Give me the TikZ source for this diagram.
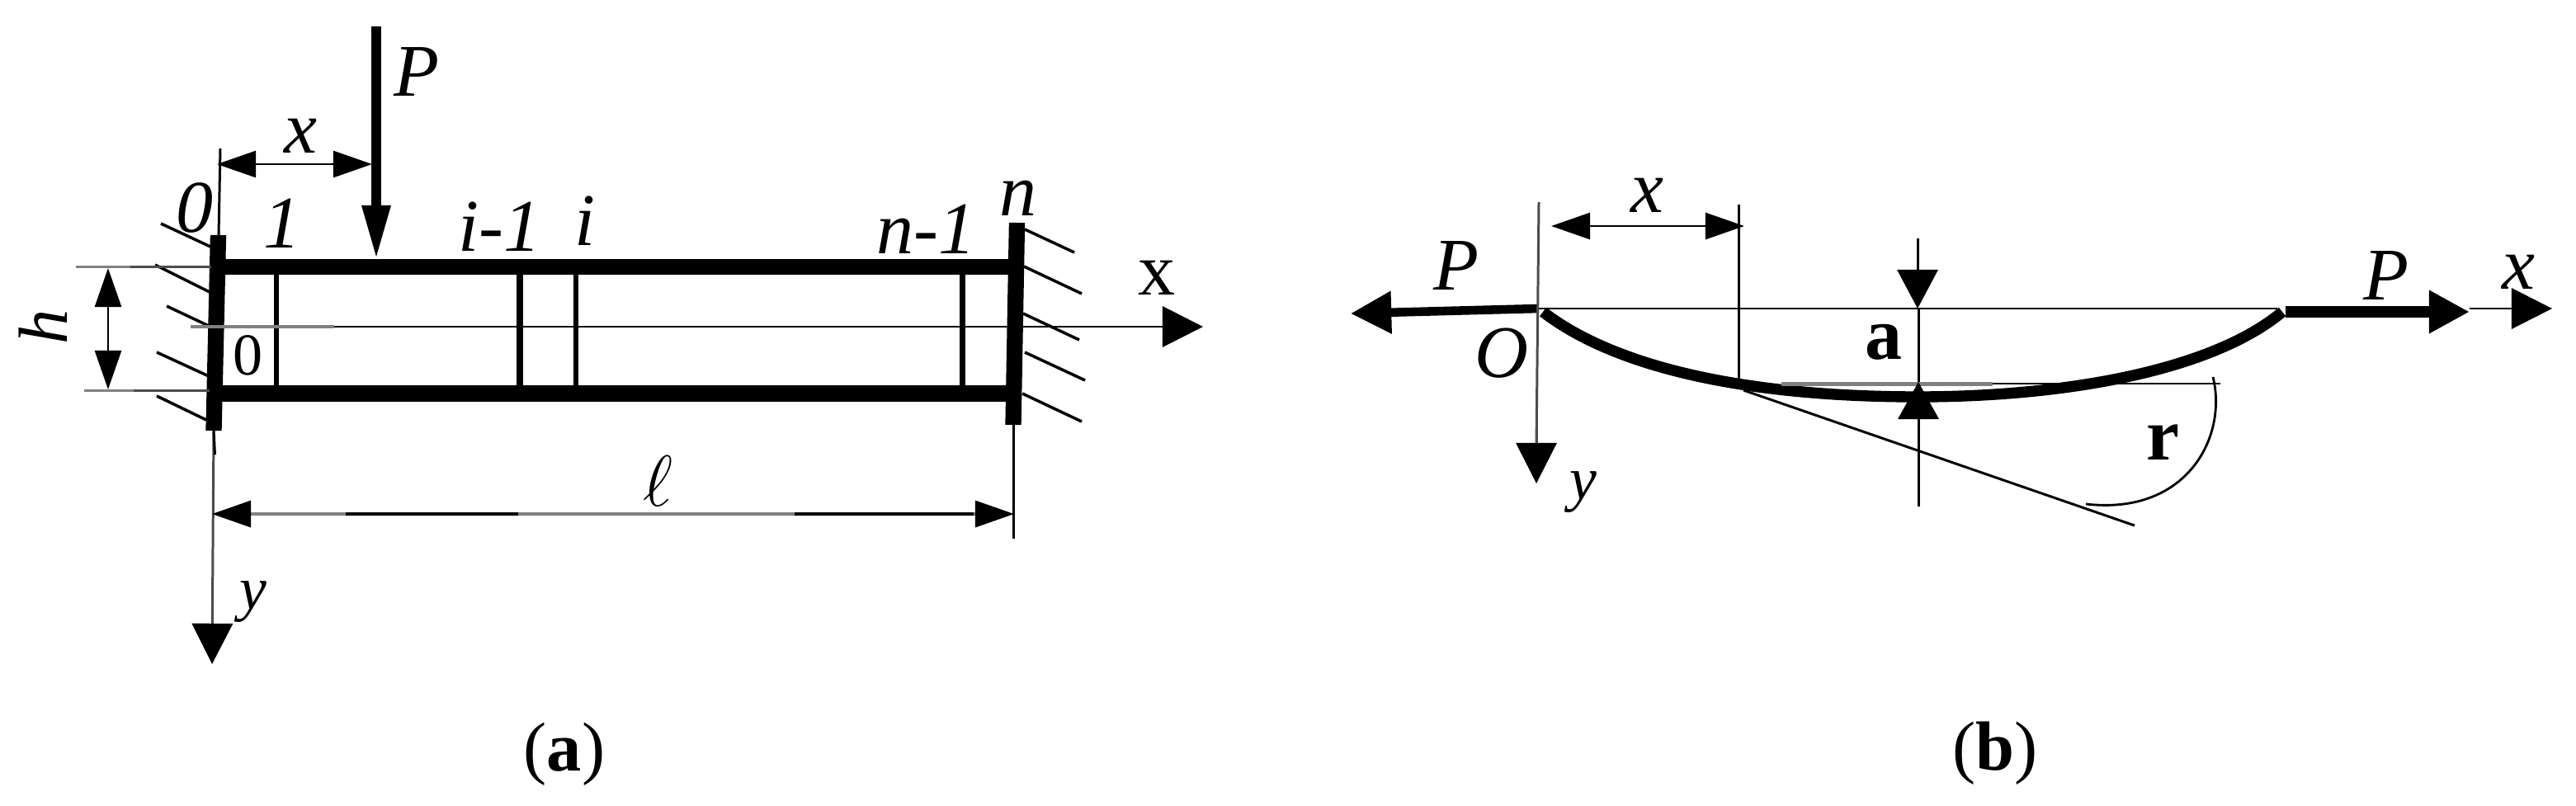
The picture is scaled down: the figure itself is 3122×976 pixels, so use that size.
\documentclass[tikz,border=0pt]{standalone}
\usepackage{fontspec}
\setmainfont{Liberation Serif}
\usetikzlibrary{arrows.meta}
\tikzset{
  x=0.01cm,y=-0.01cm,
  lab/.style={inner sep=0pt,font=\fontsize{25.6}{30}\selectfont\itshape},
  smalllab/.style={inner sep=0pt,font=\fontsize{21}{25}\selectfont\itshape},
  rlab/.style={inner sep=0pt,font=\fontsize{25.6}{30}\selectfont},
  caplab/.style={inner sep=0pt,font=\fontsize{24}{28}\selectfont},
  thinl/.style={line width=0.85pt},
  grayl/.style={line width=1pt,black!50},
  hatch/.style={line width=1pt},
  wall/.style={line width=5.5pt},
  beam/.style={line width=5.5pt},
  dimarrows/.style={{Triangle[length=13.4pt,width=9.1pt,color=black]}-{Triangle[length=13.4pt,width=9.1pt,color=black]}},
  bigtip/.style={-{Triangle[length=14pt,width=14pt,color=black]}},
}
\begin{document}
\begin{tikzpicture}
\useasboundingbox[fill=white] (0,0) rectangle (3122,976);
% ---------- (a) ----------
\coordinate (LT) at (264.5,285); \coordinate (LB) at (259,522);
\coordinate (RT) at (1232.5,270); \coordinate (RB) at (1228,515);
\draw[wall] (LT) -- (LB);
\draw[wall] (RT) -- (RB);
\draw[beam] (262,323.5) -- (1232,323.5);
\draw[beam] (260,477) -- (1229,477);
\foreach \xx/\w in {335/1.5,630/2,698/1.7,1166.5/1.8}
  \draw[line width=\w pt] (\xx,330) -- (\xx,470);
% hatches left
\foreach \a/\b/\c/\d in {195/271/255/299,188/321/254/354,202/371/255/396,190/427/253/456,190/480/250/509}
  \draw[hatch] (\a,\b) -- (\c,\d);
% hatches right
\foreach \a/\b/\c/\d in {1242/278/1302/306,1241/323/1311/356,1240/380/1308/412,1242/427/1315/461,1239/477/1311/511}
  \draw[hatch] (\a,\b) -- (\c,\d);
% axes
\draw[grayl] (231,396) -- (405,396);
\draw[thinl,bigtip] (405,396) -- (1458,396);
\draw[thinl,black!70,bigtip] (LB) -- (257,805);
\draw[thinl] (LB) -- (260.5,551);
% force P
\draw[line width=3.4pt,-{Triangle[length=18.8pt,width=9.1pt]}] (456,32) -- (456,315);
% dimension x
\coordinate (XL) at (263,199); \coordinate (XR) at (451,199);
\draw[thinl,dimarrows] (XL) -- (XR);
\draw[thinl] (267,180) -- (265,285);
% dimension h
\draw[grayl] (92,323.5) -- (158,323.5);
\draw[thinl,black!70] (158,323.5) -- (256,323.5);
\draw[grayl] (102,473.5) -- (162,473.5);
\draw[thinl,black!70] (162,473.5) -- (254,473.5);
\draw[thinl,dimarrows] (131,325) -- (131,472);
% dimension l
\draw[grayl,dimarrows] (257,623) -- (1229,623);
\draw[line width=1pt] (419,623) -- (628,623);
\draw[line width=1pt] (963,623) -- (1180,623);
\draw[thinl] (RB) -- (1228,653);
% labels (a)
\node[lab] (Pa) at (505,87) {P};
\node[lab] (xa) at (364,165) {x};
\node[lab] (n0) at (236,252) {0};
\node[lab] (n1) at (342,271) {1};
\node[lab] (nim) at (605,275) {i-1};
\node[lab] (ni) at (709,268) {i};
\node[lab] (nnm) at (1122,278) {n-1};
\node[lab] (nn) at (1234,240) {n};
\node[lab,rotate=90,font=\fontsize{24}{28}\selectfont\itshape] (ha) at (52,396) {h};
\node[rlab,font=\fontsize{20.5}{24}\selectfont] (oa) at (301,431) {0};
\node[rlab] (Xa) at (1402,337) {x};
\node[smalllab] (ya) at (307,730) {y};
\node[inner sep=0pt] (la) at (797,583) {\fontsize{25.6}{30}\selectfont$\ell$};
\node[caplab] (capa) at (684,914) {(\textbf{a})};
% ---------- (b) ----------
\coordinate (O) at (1865,374);
\draw[line width=3pt,bigtip] (O) -- (1637,380);
\draw[thinl,black!70] (1865,245) -- (1862,540);
\draw[thinl,black!70,bigtip] (1862,500) -- (1862,586);
\draw[thinl] (O) -- (2760,374);
\draw[thinl,dimarrows] (1880,274) -- (2114,274);
\draw[thinl] (2107,248) -- (2107,462);
% beam curve
\draw[line width=3.8pt] (1870,378) .. controls (1950,440) and (2100,481) .. (2325,481) .. controls (2500,481) and (2680,450) .. (2766,378);
\draw[black!50,line width=1.4pt] (2159,465.5) -- (2415,465.5);
\draw[thinl] (2415,465) -- (2691,465);
\draw[thinl] (2113,473) -- (2587,637);
% dimension a
\draw[thinl,-{Triangle[length=13.4pt,width=14pt]}] (2324,289) -- (2324,374);
\draw[thinl] (2325,374) -- (2325,463);
\draw[thinl,-{Triangle[length=12.8pt,width=14pt]}] (2325,614) -- (2325,463);
% angle arc
\draw[line width=0.8pt] (2682,457) .. controls (2700,530) and (2650,625) .. (2528,611);
% right force
\draw[line width=4pt,bigtip] (2770,378) -- (2993,378);
\draw[thinl,bigtip] (2993,374) -- (3093,374);
% labels (b)
\node[lab] (Pb1) at (1765,322) {P};
\node[lab] (Ob) at (1820,428) {O};
\node[lab] (xb) at (1996,237) {x};
\node[smalllab] (yb) at (1919,597) {y};
\node[rlab] (ab) at (2283,415) {\textbf{a}};
\node[rlab] (rb) at (2621,536) {\textbf{r}};
\node[lab] (Pb2) at (2892,334) {P};
\node[lab] (xb2) at (3052,330) {x};
\node[caplab] (capb) at (2418,913) {(\textbf{b})};
\end{tikzpicture}
\end{document}
